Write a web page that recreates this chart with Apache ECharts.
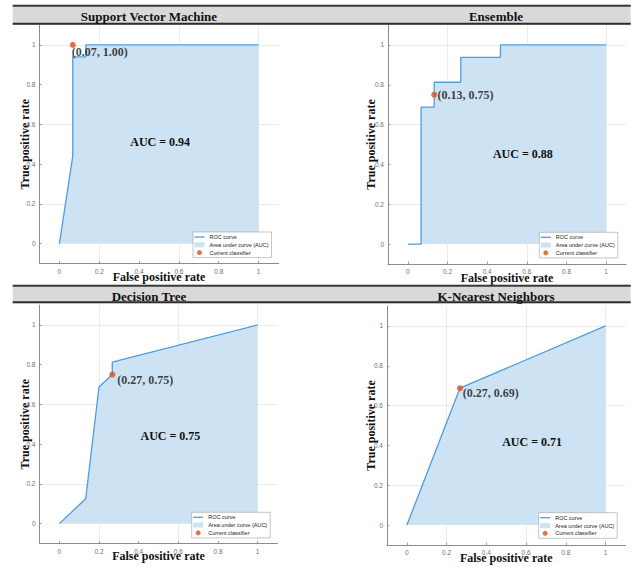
<!DOCTYPE html>
<html><head><meta charset="utf-8">
<script src="https://cdn.jsdelivr.net/npm/echarts@6/dist/echarts.min.js"></script>
<style>html,body{margin:0;padding:0;background:#fff}#c{width:633px;height:567px}</style>
</head><body><div id="c"></div>
<script>
// ---- data ----
const panelTitles = ['Support Vector Machine', 'Ensemble', 'Decision Tree', 'K-Nearest Neighbors'];
const aucLabels = ['AUC = 0.94', 'AUC = 0.88', 'AUC = 0.75', 'AUC = 0.71'];
const svmFpr = [0, 0.067, 0.067, 0.133, 0.133, 1];
const svmTpr = [0, 0.44, 0.94, 0.94, 1, 1];
const ensFpr = [0, 0.067, 0.067, 0.133, 0.133, 0.267, 0.267, 0.467, 0.467, 1];
const ensTpr = [0, 0, 0.6875, 0.6875, 0.8125, 0.8125, 0.9375, 0.9375, 1, 1];
const dtFpr = [0, 0.133, 0.2, 0.267, 0.267, 1];
const dtTpr = [0, 0.125, 0.6875, 0.75, 0.8125, 1];
const knnFpr = [0, 0.267, 1];
const knnTpr = [0, 0.6875, 1];
const currentFpr = [0.067, 0.133, 0.267, 0.267];
const currentTpr = [1.00, 0.75, 0.75, 0.6875];
const tickValues = [0, 0.2, 0.4, 0.6, 0.8, 1];
const legendNames = ['ROC curve', 'Area under curve (AUC)', 'Current classifier'];
const xAxisName = 'False positive rate';
const yAxisName = 'True positive rate';

// ---- layout / style ----
const SERIF = '"Liberation Serif", "Times New Roman", serif';
const SANS = '"Liberation Sans", Arial, sans-serif';
const LINE = '#4d9ddf';
const FILL = '#cde2f2';
const DOT = '#d95319';
const AXIS = '#8c8c8c';
const grids = [
  {left: 39.5, top: 25, width: 239, height: 238.5},
  {left: 388, top: 25, width: 238, height: 239},
  {left: 39.5, top: 305, width: 238, height: 238.5},
  {left: 387, top: 306, width: 238.5, height: 239}
];
const yNameGap = [8.5, 11, 8.5, 10];
const xNameGap = [7, 8, 6.7, 7.3];
const titleCenters = [[149, 16], [496, 16], [149, 296], [496, 296]];
const aucPos = [[0.506, 0.51], [0.58, 0.45], [0.56, 0.44], [0.63, 0.415]];
const pointLabelOffset = [[-9, 7.4], [-4.6, 0], [-3, 5], [-5.3, 5]];
const legendPos = [[193, 232], [539.3, 232.3], [191.7, 512.3], [538.7, 512.7]];

const curves = [[svmFpr, svmTpr], [ensFpr, ensTpr], [dtFpr, dtTpr], [knnFpr, knnTpr]];
const pairs = (xs, ys) => xs.map((x, k) => [x, ys[k]]);

const chart = echarts.init(document.getElementById('c'), null, {renderer: 'svg'});

const xAxes = [], yAxes = [], series = [], legends = [];
grids.forEach((g, i) => {
  const common = {
    gridIndex: i, type: 'value', min: -0.1, max: 1.1, interval: 0.1,
    nameLocation: 'middle', nameMoveOverlap: false,
    nameTextStyle: {fontFamily: SERIF, fontWeight: 'bold', fontSize: 12, color: '#111'},
    axisLine: {show: true, onZero: false, lineStyle: {color: AXIS, width: 1}},
    axisTick: {show: true, inside: true, length: 2.5, customValues: tickValues, lineStyle: {color: AXIS, width: 0.8}},
    axisLabel: {customValues: tickValues, fontSize: 6.5, color: '#707070', margin: 4, fontFamily: SANS},
    splitLine: {show: true, lineStyle: {color: ['rgba(0,0,0,0)', '#e6e6e6'], width: 0.8}}
  };
  xAxes.push(Object.assign({}, common, {name: xAxisName, nameGap: xNameGap[i]}));
  yAxes.push(Object.assign({}, common, {name: yAxisName, nameGap: yNameGap[i]}));
  const data = pairs(curves[i][0], curves[i][1]);
  series.push({
    name: legendNames[1], type: 'line', xAxisIndex: i, yAxisIndex: i, data: data,
    symbol: 'none', lineStyle: {width: 0}, itemStyle: {color: FILL},
    areaStyle: {color: FILL, opacity: 1, origin: 'auto'}, silent: true, z: 1,
    markPoint: {
      symbol: 'circle', symbolSize: 1, itemStyle: {color: 'rgba(0,0,0,0)'}, silent: true,
      data: [{coord: aucPos[i], label: {show: true, position: 'inside', formatter: aucLabels[i],
        fontFamily: SERIF, fontWeight: 'bold', fontSize: 12, color: '#111'}}]
    }
  });
  series.push({
    name: legendNames[0], type: 'line', xAxisIndex: i, yAxisIndex: i, data: data,
    symbol: 'none', lineStyle: {color: LINE, width: 1.3}, itemStyle: {color: LINE}, z: 2, silent: true
  });
  series.push({
    name: legendNames[2], type: 'scatter', xAxisIndex: i, yAxisIndex: i,
    data: [[currentFpr[i], currentTpr[i]]], symbolSize: 6, itemStyle: {color: DOT}, z: 4, silent: true,
    label: {show: true, position: 'right', offset: pointLabelOffset[i],
      formatter: p => '(' + p.value[0].toFixed(2) + ', ' + p.value[1].toFixed(2) + ')',
      fontFamily: SERIF, fontWeight: 'bold', fontSize: 12, color: '#111'}
  });
  legends.push({
    orient: 'vertical', left: legendPos[i][0], top: legendPos[i][1],
    padding: [2, 3, 2, 1.5], itemWidth: 10, itemHeight: 5, itemGap: 1.8, selectedMode: false,
    backgroundColor: '#fff', borderColor: '#a0a0a0', borderWidth: 0.6,
    textStyle: {fontSize: 5.5, color: '#222', fontFamily: SANS},
    data: [
      {name: legendNames[0], icon: 'path://M0,0H10V1.3H0Z', itemStyle: {color: LINE, borderWidth: 0}, lineStyle: {color: LINE}},
      {name: legendNames[1], icon: 'rect', itemStyle: {color: FILL, borderWidth: 0}},
      {name: legendNames[2], icon: 'circle', itemStyle: {color: DOT, borderWidth: 0}}
    ]
  });
});

const graphics = [];
[[4.7, 20], [284.7, 18.6]].forEach(([y, h]) => {
  graphics.push({type: 'rect', shape: {x: 12.7, y: y, width: 618, height: h}, style: {fill: '#d9d9d9'}, z: 10});
  graphics.push({type: 'line', shape: {x1: 12.7, y1: y + 1, x2: 630.7, y2: y + 1}, style: {stroke: '#3a3a3a', lineWidth: 2}, z: 11});
  graphics.push({type: 'line', shape: {x1: 12.7, y1: y + h - 1, x2: 630.7, y2: y + h - 1}, style: {stroke: '#2c2c2c', lineWidth: 2}, z: 11});
});
panelTitles.forEach((t, i) => {
  graphics.push({type: 'text', z: 12, style: {text: t, x: titleCenters[i][0], y: titleCenters[i][1],
    align: 'center', verticalAlign: 'middle', fontFamily: SERIF, fontWeight: 'bold', fontSize: 13, fill: '#111'}});
});

chart.setOption({
  animation: false,
  backgroundColor: '#fff',
  grid: grids.map(g => Object.assign({outerBoundsMode: 'none', containLabel: false}, g)),
  xAxis: xAxes, yAxis: yAxes, series: series, legend: legends, graphic: graphics
});
</script></body></html>
